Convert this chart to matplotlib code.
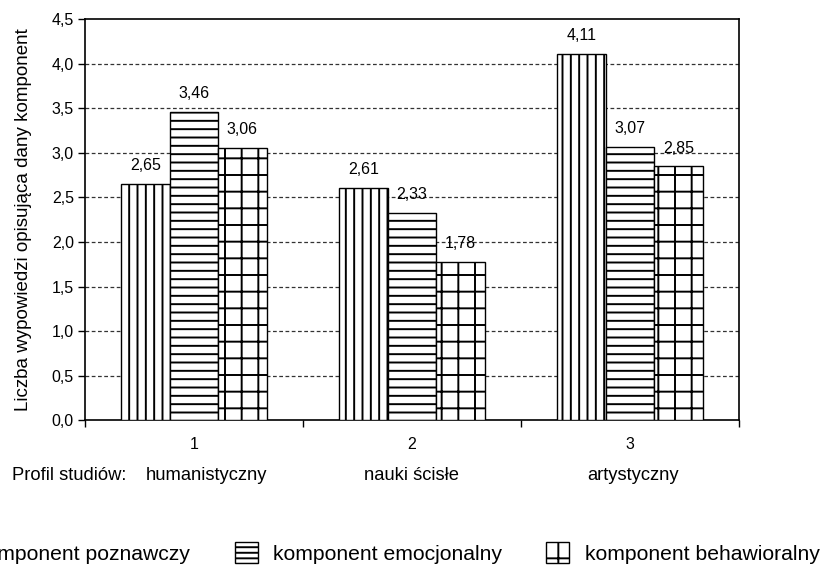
import matplotlib
matplotlib.use("Agg")
from matplotlib import pyplot as plt
from matplotlib.patches import Patch
import numpy as np

plt.rcParams['font.family'] = ['Liberation Sans', 'DejaVu Sans']
plt.rcParams['hatch.linewidth'] = 1.4
plt.rcParams['hatch.color'] = '#111111'

# data
groups = ['1', '2', '3']
profiles = ['humanistyczny', 'nauki ścisłe', 'artystyczny']
series = ['komponent poznawczy', 'komponent emocjonalny', 'komponent behawioralny']
poznawczy = [2.65, 2.61, 4.11]
emocjonalny = [3.46, 2.33, 3.07]
behawioralny = [3.06, 1.78, 2.85]
hatches = ['||', '--', '+']

fig = plt.figure(figsize=(8.24, 5.67), dpi=100)
ax = fig.add_axes([0.103, 0.259, 0.794, 0.707])

x = np.arange(1, len(groups) + 1)
width = 0.222
values = [poznawczy, emocjonalny, behawioralny]
for i, (vals, h) in enumerate(zip(values, hatches)):
    pos = x + (i - 1) * width
    ax.bar(pos, vals, width, color='white', edgecolor='black',
           linewidth=1.0, hatch=h, zorder=3)
    for px, v in zip(pos, vals):
        ax.text(px, v + 0.12, f'{v:.2f}'.replace('.', ','), ha='center',
                va='bottom', fontsize=11.5)

ax.set_xlim(0.5, 3.5)
ax.set_ylim(0, 4.5)
yt = np.arange(0, 4.51, 0.5)
ax.set_yticks(yt)
ax.set_yticklabels([f'{t:.1f}'.replace('.', ',') for t in yt], fontsize=11.5)
ax.set_xticks(x)
ax.set_xticklabels(groups, fontsize=11.5)
ax.tick_params(axis='x', which='major', length=0, pad=12)
ax.set_xticks([0.5, 1.5, 2.5, 3.5], minor=True)
ax.tick_params(axis='x', which='minor', length=5, width=1, direction='out')
ax.tick_params(axis='y', length=5, width=1, direction='out', pad=3)

for yv in yt[1:-1]:
    ax.axhline(yv, color='#333333', linewidth=0.9, linestyle=(0, (3, 2)), zorder=1)

for s in ax.spines.values():
    s.set_linewidth(1.2)

ax.set_ylabel('Liczba wypowiedzi opisująca dany komponent', fontsize=13.5, labelpad=14)

# profile names under the categories
label_y = 1 - 475 / 567
fig.text(12 / 824, label_y, 'Profil studiów:', fontsize=13.2, va='center', ha='left')
shifts = [13, 0, 3]
for xi, name, dx in zip(x, profiles, shifts):
    xf = (ax.transData.transform((xi, 0))[0] + dx) / fig.bbox.width
    fig.text(xf, label_y, name, fontsize=13.2, va='center', ha='center')

handles = [Patch(facecolor='white', edgecolor='black', hatch=h, linewidth=1.0)
           for h in ['|||', '---', '+']]
fig.legend(handles, series, ncol=3, loc='center', bbox_to_anchor=(0.459, 0.025),
           frameon=False, fontsize=15.2, handlelength=1.1, handleheight=1.2,
           handletextpad=0.72, columnspacing=2.1)

fig.savefig('out.png', dpi=100)
